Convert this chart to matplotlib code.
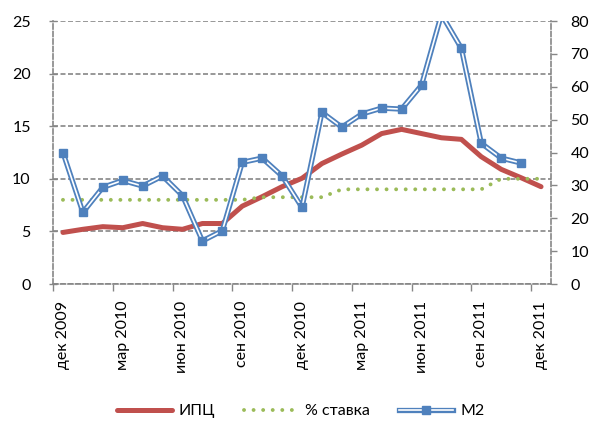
import matplotlib
matplotlib.use("Agg")
import matplotlib.pyplot as plt
import numpy as np

plt.rcParams['font.family'] = ['Lato', 'DejaVu Sans']

months = ["дек 2009", "янв 2010", "фев 2010", "мар 2010", "апр 2010", "май 2010",
          "июн 2010", "июл 2010", "авг 2010", "сен 2010", "окт 2010", "ноя 2010",
          "дек 2010", "янв 2011", "фев 2011", "мар 2011", "апр 2011", "май 2011",
          "июн 2011", "июл 2011", "авг 2011", "сен 2011", "окт 2011", "ноя 2011",
          "дек 2011"]

cpi = [4.9, 5.2, 5.45, 5.35, 5.75, 5.35, 5.2, 5.75, 5.75, 7.4, 8.3, 9.25,
       10.05, 11.45, 12.35, 13.2, 14.3, 14.7, 14.3, 13.9, 13.75, 12.1, 10.9, 10.1, 9.25]
rate = [8.0, 8.0, 8.0, 8.0, 8.0, 8.0, 8.0, 8.0, 8.0, 8.0, 8.25, 8.25,
        8.25, 8.25, 9.0, 9.0, 9.0, 9.0, 9.0, 9.0, 9.0, 9.0, 10.0, 10.0, 10.0]
m2_months = months[:24]
m2 = [40.0, 21.8, 29.4, 31.5, 29.8, 32.85, 26.9, 13.1, 16.2, 37.0, 38.3, 32.85,
      23.3, 52.2, 47.7, 51.7, 53.5, 53.2, 60.5, 82.0, 71.7, 42.8, 38.3, 36.8]

left_ticks = [0, 5, 10, 15, 20, 25]
right_ticks = [0, 10, 20, 30, 40, 50, 60, 70, 80]
label_months = months[::3]

RED = "#C0504D"
GREEN = "#9BBB59"
BLUE = "#4F81BD"
GRAY = "#868686"
FS = 11.5

fig = plt.figure(figsize=(5.93, 4.23), dpi=100)
ax = fig.add_axes([53/593, 1-284/423, (551-53)/593, (284-21)/423])
ax2 = ax.twinx()

dash = (0, (3.0, 1.5))

l_cpi, = ax.plot(months, cpi, color=RED, lw=3.6, solid_capstyle='round', zorder=3)
l_rate, = ax.plot(months, rate, color=GREEN, lw=2.8, linestyle=(0, (0.01, 2.45)),
                  dash_capstyle='round', zorder=3)

l_b1, = ax2.plot(m2_months, m2, color=BLUE, lw=3.8, zorder=3)
l_b2, = ax2.plot(m2_months, m2, color="white", lw=1.2, zorder=4)
l_b3, = ax2.plot(m2_months, m2, color=BLUE, lw=0, marker='s', markersize=5.2, zorder=5)

ax.set_xlim(-0.5, 24.5)
ax.set_ylim(0, 25)
ax2.set_ylim(0, 80)

ax.set_yticks(left_ticks)
ax2.set_yticks(right_ticks)

ax.set_xticks(range(0, 25, 3))
ax.set_xticklabels(label_months, rotation=90, fontsize=FS)
ax.set_xticks(np.arange(-0.5, 24.6, 3), minor=True)
ax.tick_params(axis='x', which='major', length=0, pad=12)
ax.tick_params(axis='x', which='minor', length=5, direction='out', color=GRAY, width=1)

ax.tick_params(axis='y', direction='inout', length=6, color=GRAY, width=1, labelsize=FS, pad=13)
ax2.tick_params(axis='y', direction='out', length=4, color=GRAY, width=1, labelsize=FS, pad=10)

ax.grid(axis='y', color=GRAY, linestyle=dash, lw=1.2)
ax.set_axisbelow(True)

for a in (ax, ax2):
    a.spines['top'].set_visible(False)
    for s in ('left', 'right', 'bottom'):
        a.spines[s].set_color(GRAY)
        a.spines[s].set_linestyle(dash)
        a.spines[s].set_linewidth(1.2)
ax2.spines['bottom'].set_visible(False)
ax2.spines['left'].set_visible(False)
ax.spines['right'].set_visible(False)

ax2.set_zorder(ax.get_zorder() + 1)
ax2.patch.set_visible(False)

leg = fig.legend([l_cpi, l_rate, (l_b1, l_b2, l_b3)], ["ИПЦ", "% ставка", "M2"],
                 loc='center', bbox_to_anchor=(301/593, 1-411/423), ncol=3,
                 frameon=False, fontsize=FS, handlelength=3.4, columnspacing=1.8,
                 handletextpad=0.45)

fig.savefig("out.png", dpi=100)
